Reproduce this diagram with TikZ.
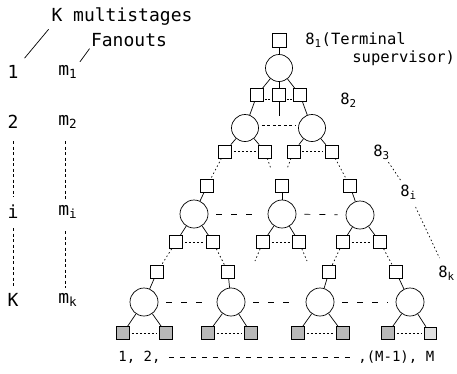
\documentclass[tikz,border=0pt]{standalone}
\usepackage{fontspec}
\setmonofont{DejaVu Sans Mono}
\tikzset{every path/.style={black,line width=0.7pt},
  sq/.style={draw,rectangle,minimum size=13pt,inner sep=0pt},
  leaf/.style={sq,fill=black!28},
  ctl/.style={draw,circle,minimum size=28pt,inner sep=0pt},
  lbl/.style={font=\ttfamily\fontsize{18}{21}\selectfont,inner sep=0pt},
  rlbl/.style={font=\ttfamily\fontsize{15.5}{18}\selectfont,inner sep=0pt,anchor=west},
  blbl/.style={font=\ttfamily\fontsize{14}{17}\selectfont,inner sep=0pt,anchor=west},
  gap/.style={dash pattern=on 6pt off 9pt},
  dots/.style={dash pattern=on 2pt off 2pt,shorten <=2pt,shorten >=2pt},
  omit/.style={dash pattern=on 1.5pt off 2.5pt},
  vdash/.style={dash pattern=on 3pt off 2.5pt}}

\begin{document}
\begin{tikzpicture}[x=1pt,y=-1pt]
  \useasboundingbox (0,0) rectangle (457,373);
  % stages and fanouts
  \node[lbl] (kms) at (122,17) {K multistages};
  \node[lbl] (fan) at (129,40) {Fanouts};
  \node[lbl] (s1) at (13,72) {1};
  \node[lbl] (s2) at (13,122) {2};
  \node[lbl] (si) at (13,212) {i};
  \node[lbl] (sK) at (13,300) {K};
  \node[lbl,anchor=west] (m1) at (58,72) {m\textsubscript{1}};
  \node[lbl,anchor=west] (m2) at (58,122) {m\textsubscript{2}};
  \node[lbl,anchor=west] (mi) at (58,212) {m\textsubscript{i}};
  \node[lbl,anchor=west] (mk) at (58,300) {m\textsubscript{k}};
  \draw[shorten <=9pt,shorten >=4pt] (s1.north east) -- (kms.south west);
  \draw[shorten <=4pt,shorten >=2pt] (m1.north east) -- (fan.south west);
  \draw[vdash,shorten <=12pt,shorten >=8pt] (s2) -- (si);
  \draw[vdash,shorten <=9pt,shorten >=6pt] (si) -- (sK);
  \draw[vdash,shorten <=12pt,shorten >=5pt] ([xshift=7pt]m2.south west) -- ([xshift=7pt]mi.north west);
  \draw[vdash,shorten <=12pt,shorten >=5pt] ([xshift=7pt]mi.south west) -- ([xshift=7pt]mk.north west);

  % stage labels
  \node[rlbl] (g1) at (305,40) {8\textsubscript{1}(Terminal};
  \node[rlbl] (g1b) at (352,58) {supervisor)};
  \node[rlbl] (g2) at (340,100) {8\textsubscript{2}};
  \node[rlbl] (g3) at (373,152) {8\textsubscript{3}};
  \node[rlbl] (gi) at (400,192) {8\textsubscript{i}};
  \node[rlbl] (gk) at (438,273) {8\textsubscript{k}};
  \draw[omit,shorten <=3pt,shorten >=3pt] (g3) -- (gi);
  \draw[omit,shorten <=8pt,shorten >=8pt] (gi) -- (gk);

  % stage 1 and 2
  \node[sq,minimum size=14pt] (t0) at (279,40) {};
  \node[ctl,minimum size=27pt] (r0) at (279,68) {};
  \node[sq] (a1) at (257,95) {};
  \node[sq] (a2) at (279,95) {};
  \node[sq] (a3) at (300,95) {};
  \coordinate (a2e) at (279,116);
  \node[ctl,minimum size=27pt] (b1) at (245,128) {};
  \node[ctl,minimum size=27pt] (b2) at (312,128) {};
  \node[sq] (b1l) at (225,151.5) {};
  \node[sq] (b1r) at (265,151.5) {};
  \node[sq] (b2l) at (293.5,151.5) {};
  \node[sq] (b2r) at (331.5,151.5) {};
  \draw (t0) -- (r0);
  \draw (r0) -- (a1);
  \draw (r0) -- (a2);
  \draw (r0) -- (a3);
  \draw (a2) -- (a2e);
  \draw (a1) -- (b1);
  \draw (a3) -- (b2);
  \draw[dash pattern=on 2pt off 1.5pt,shorten <=1pt,shorten >=1pt] ([yshift=-4pt]a1.east) -- ([yshift=-4pt]a2.west);
  \draw[dash pattern=on 2pt off 1.5pt,shorten <=1pt,shorten >=1pt] ([yshift=-4pt]a2.east) -- ([yshift=-4pt]a3.west);
  \draw[dash pattern=on 3pt off 2.5pt,shorten <=3pt,shorten >=3pt] ([yshift=3pt]b1.east) -- ([yshift=3pt]b2.west);
  \draw (b1) -- (b1l);
  \draw (b1) -- (b1r);
  \draw (b2) -- (b2l);
  \draw (b2) -- (b2r);
  \draw[dots] (b1l) -- (b1r);
  \draw[dots] (b2l) -- (b2r);

  % stage 3
  \node[sq] (p1) at (207,186) {};
  \node[sq] (p2) at (282,186) {};
  \node[sq] (p3) at (350,186) {};
  \coordinate (x1) at (271,169);
  \coordinate (x2) at (287,169);
  \node[ctl] (c1) at (194,214) {};
  \node[ctl] (c2) at (282,214) {};
  \node[ctl] (c3) at (360,215) {};
  \node[sq] (c1l) at (176,242) {};
  \node[sq] (c1r) at (213,242) {};
  \node[sq] (c2l) at (263,242) {};
  \node[sq] (c2r) at (299,242) {};
  \node[sq] (c3l) at (343,242) {};
  \node[sq] (c3r) at (380,242) {};
  \draw[omit] (b1l) -- (p1);
  \draw[omit] (b1r) -- (x1);
  \draw[omit] (b2l) -- (x2);
  \draw[omit] (b2r) -- (p3);
  \draw (p1) -- (c1);
  \draw (p2) -- (c2);
  \draw (p3) -- (c3);
  \draw[gap,shorten <=8pt,shorten >=8pt] (c1) -- (c2);
  \draw[gap,shorten <=8pt,shorten >=8pt] (c2) -- (c3);
  \draw (c1) -- (c1l);
  \draw (c1) -- (c1r);
  \draw (c2) -- (c2l);
  \draw (c2) -- (c2r);
  \draw (c3) -- (c3l);
  \draw (c3) -- (c3r);
  \draw[dots] (c1l) -- (c1r);
  \draw[dots] (c2l) -- (c2r);
  \draw[dots] (c3l) -- (c3r);

  % stage K
  \node[sq] (q1) at (157,272) {};
  \node[sq] (q2) at (228,272) {};
  \node[sq] (q3) at (329,272) {};
  \node[sq] (q4) at (396,272) {};
  \coordinate (y1) at (255,261);
  \coordinate (y2) at (307,261);
  \node[ctl] (d1) at (144,302) {};
  \node[ctl] (d2) at (231,302) {};
  \node[ctl] (d3) at (320,302) {};
  \node[ctl] (d4) at (410,302) {};
  \node[leaf] (d1l) at (123,333) {};
  \node[leaf] (d1r) at (166,333) {};
  \node[leaf] (d2l) at (208,333) {};
  \node[leaf] (d2r) at (251,333) {};
  \node[leaf] (d3l) at (298,333) {};
  \node[leaf] (d3r) at (343,333) {};
  \node[leaf] (d4l) at (388,333) {};
  \node[leaf,fill=black!12,minimum size=12pt] (d4r) at (430,333) {};
  \draw[omit] (c1l) -- (q1);
  \draw[omit] (c1r) -- (q2);
  \draw[omit] (c2l) -- (y1);
  \draw[omit] (c2r) -- (y2);
  \draw[omit] (c3l) -- (q3);
  \draw[omit] (c3r) -- (q4);
  \draw (q1) -- (d1);
  \draw (q2) -- (d2);
  \draw (q3) -- (d3);
  \draw (q4) -- (d4);
  \draw[gap,shorten <=8pt,shorten >=8pt] (d1) -- (d2);
  \draw[gap,shorten <=8pt,shorten >=8pt] (d2) -- (d3);
  \draw[gap,shorten <=8pt,shorten >=8pt] (d3) -- (d4);
  \draw (d1) -- (d1l);
  \draw (d1) -- (d1r);
  \draw (d2) -- (d2l);
  \draw (d2) -- (d2r);
  \draw (d3) -- (d3l);
  \draw (d3) -- (d3r);
  \draw (d4) -- (d4l);
  \draw (d4) -- (d4r);
  \draw[dots] (d1l) -- (d1r);
  \draw[dots] (d2l) -- (d2r);
  \draw[dots] (d3l) -- (d3r);
  \draw[dots] (d4l) -- (d4r);

  % terminals
  \node[blbl] (n12) at (118,357) {1, 2,};
  \node[blbl] (nM) at (358,357) {,(M-1), M};
  \draw[dash pattern=on 5pt off 6pt,shorten <=8pt,shorten >=8pt] (n12) -- (nM);
\end{tikzpicture}
\end{document}
